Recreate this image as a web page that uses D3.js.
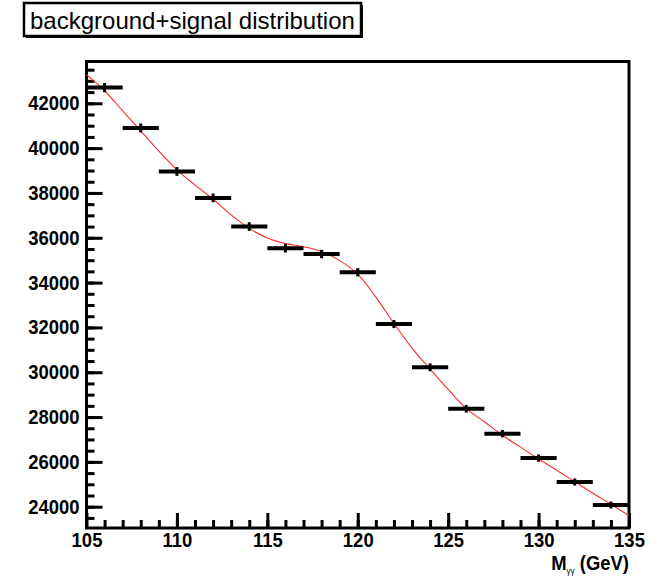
<!DOCTYPE html>
<html lang="en">
<head>
<meta charset="UTF-8">
<title>background+signal distribution</title>
<script src="https://d3js.org/d3.v7.min.js"></script>
<style>
    body { margin: 0; background: #ffffff; }
    svg { display: block; font-family: "Liberation Sans", Arial, Helvetica, sans-serif; }
    .axis text { font-size: 20.5px; font-weight: bold; fill: #000; }
    .axis line { stroke: #000; stroke-width: 3; }
</style>
</head>
<body>
<div id="chart"></div>
<script>
// histogram bins (2 GeV wide)
const binCenters = [106, 108, 110, 112, 114, 116, 118, 120, 122, 124, 126, 128, 130, 132, 134];
const counts = [42700, 40900, 38960, 37780, 36500, 35530, 35275, 34460, 32150, 30220, 28370, 27260, 26170, 25100, 24075];
const errors = [207, 202, 197, 194, 191, 188, 188, 186, 179, 174, 168, 165, 162, 158, 155];

// fitted curve (background + signal)
const fitX = [105, 106, 107, 108, 109, 110, 111, 112, 113, 114, 115, 116, 117, 118, 119, 120,
              121, 122, 123, 124, 125, 126, 127, 128, 129, 130, 131, 132, 133, 134, 135];
const fitY = [43280, 42560, 41660, 40770, 39870, 39030, 38350, 37720, 37020, 36420, 35990, 35740,
              35600, 35390, 34980, 34380, 33350, 32180, 31080, 30140, 29230, 28380, 27790, 27190,
              26660, 26130, 25630, 25120, 24600, 24110, 23600];

const xTickValues = [105, 110, 115, 120, 125, 130, 135];
const yTickValues = [24000, 26000, 28000, 30000, 32000, 34000, 36000, 38000, 40000, 42000];

const width = 657, height = 577;
const plot = { left: 86.5, right: 629, top: 61.5, bottom: 528 };
const narrow = 0.9; // the labels are a tall, narrow Helvetica

const svg = d3.select("#chart").append("svg")
    .attr("width", width)
    .attr("height", height);

svg.append("rect").attr("width", width).attr("height", height).attr("fill", "#fff");

const x = d3.scaleLinear().domain([105, 135]).range([plot.left, plot.right]);
const y = d3.scaleLinear().domain([23050, 43865]).range([plot.bottom, plot.top]);

// minor ticks
svg.append("g").attr("class", "axis")
    .attr("transform", `translate(0,${plot.bottom})`)
    .call(d3.axisBottom(x).tickValues(d3.range(106, 135, 1)).tickSize(-8).tickFormat(""))
    .call(g => g.select(".domain").remove());
svg.append("g").attr("class", "axis")
    .attr("transform", `translate(${plot.left},0)`)
    .call(d3.axisLeft(y).tickValues(d3.range(23500, 43865, 500)).tickSize(-8).tickFormat(""))
    .call(g => g.select(".domain").remove());

// major ticks + labels
svg.append("g").attr("class", "axis")
    .attr("transform", `translate(0,${plot.bottom})`)
    .call(d3.axisBottom(x).tickValues(xTickValues).tickSize(-15).tickPadding(4).tickFormat(d3.format("d")))
    .call(g => g.select(".domain").remove())
    .call(g => g.attr("font-family", null).attr("font-size", null))
    .call(g => g.selectAll("text").attr("transform", `scale(${narrow},1)`));
svg.append("g").attr("class", "axis")
    .attr("transform", `translate(${plot.left},0)`)
    .call(d3.axisLeft(y).tickValues(yTickValues).tickSize(-16).tickPadding(7).tickFormat(d3.format("d")))
    .call(g => g.select(".domain").remove())
    .call(g => g.attr("font-family", null).attr("font-size", null))
    .call(g => g.selectAll("text").attr("x", -7 / narrow).attr("transform", `scale(${narrow},1)`));

// frame
svg.append("rect")
    .attr("x", plot.left).attr("y", plot.top)
    .attr("width", plot.right - plot.left).attr("height", plot.bottom - plot.top)
    .attr("fill", "none").attr("stroke", "#000").attr("stroke-width", 3);

// fit curve
const line = d3.line()
    .x((d, i) => x(fitX[i]))
    .y(d => y(d))
    .curve(d3.curveCatmullRom);
svg.append("path")
    .datum(fitY)
    .attr("d", line)
    .attr("fill", "none")
    .attr("stroke", "#ff2a2a")
    .attr("stroke-width", 1.1);

// data points: horizontal bin bars + vertical error bars
const pts = svg.append("g");
pts.selectAll("line.h").data(binCenters).enter().append("line")
    .attr("class", "h")
    .attr("x1", d => x(d - 1)).attr("x2", d => x(d + 1))
    .attr("y1", (d, i) => y(counts[i])).attr("y2", (d, i) => y(counts[i]))
    .attr("stroke", "#000").attr("stroke-width", 4);
pts.selectAll("line.v").data(binCenters).enter().append("line")
    .attr("class", "v")
    .attr("x1", d => x(d)).attr("x2", d => x(d))
    .attr("y1", (d, i) => y(counts[i] - errors[i])).attr("y2", (d, i) => y(counts[i] + errors[i]))
    .attr("stroke", "#000").attr("stroke-width", 3);

// x axis title
const xt = svg.append("text")
    .attr("x", plot.right / narrow).attr("y", 570)
    .attr("transform", `scale(${narrow},1)`)
    .attr("text-anchor", "end")
    .attr("font-size", "20.5px").attr("font-weight", "bold");
xt.append("tspan").text("M");
xt.append("tspan").attr("font-size", "9px").attr("dy", 4).attr("font-weight", "normal").text("γγ");
xt.append("tspan").attr("dy", -4).text(" (GeV)");

// title box with shadow
svg.append("rect").attr("x", 26).attr("y", 5).attr("width", 337).attr("height", 33).attr("fill", "#000");
svg.append("rect").attr("x", 24).attr("y", 3).attr("width", 337).attr("height", 33)
    .attr("fill", "#fff").attr("stroke", "#000").attr("stroke-width", 2.5);
svg.append("text")
    .attr("x", 30).attr("y", 28.5)
    .attr("font-size", "24px")
    .text("background+signal distribution");
</script>
</body>
</html>
